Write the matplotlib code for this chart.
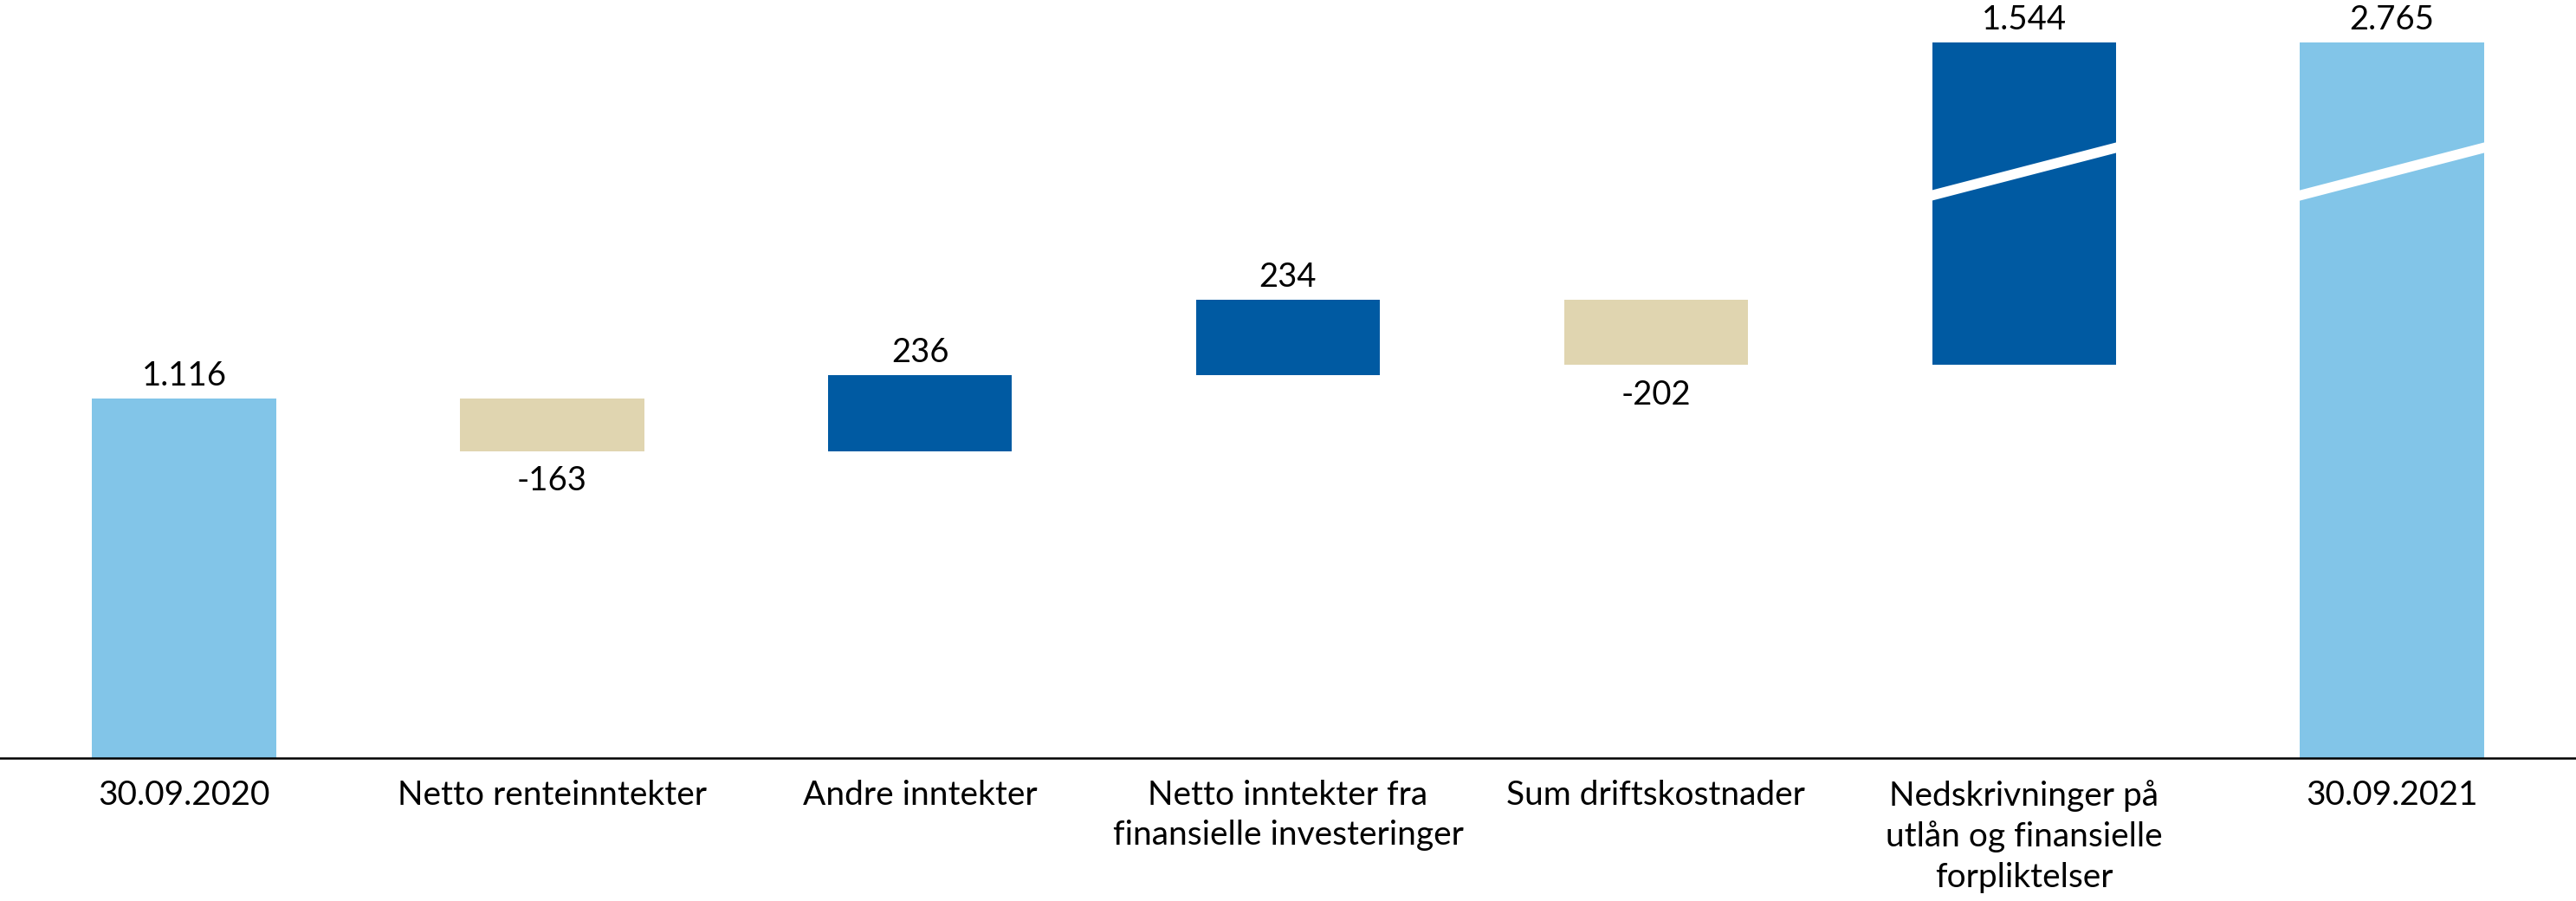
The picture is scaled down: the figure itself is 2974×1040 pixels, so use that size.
import numpy as np
import matplotlib
matplotlib.use("Agg")
import matplotlib.pyplot as plt

# ---- data ----
categories = [
    "30.09.2020",
    "Netto renteinntekter",
    "Andre inntekter",
    "Netto inntekter fra\nfinansielle investeringer",
    "Sum driftskostnader",
    "Nedskrivninger på\nutlån og finansielle\nforpliktelser",
    "30.09.2021",
]
values = [1116, -163, 236, 234, -202, 1544, 2765]
is_total = [True, False, False, False, False, False, True]
value_labels = ["1.116", "-163", "236", "234", "-202", "1.544", "2.765"]

# ---- style ----
C_TOTAL = "#82C5E8"
C_POS = "#005AA2"
C_NEG = "#E0D5B0"
FONT = "Lato"
FS_VAL = 27.5
FS_CAT = 28

plt.rcParams["font.family"] = [FONT, "DejaVu Sans"]

# broken (compressed) y scale above B
B, K = 1820.0, 0.4243


def fwd(y):
    y = np.asarray(y, dtype=float)
    return np.where(y <= B, y, B + (y - B) * K)


def inv(d):
    d = np.asarray(d, dtype=float)
    return np.where(d <= B, d, B + (d - B) / K)


fig = plt.figure(figsize=(29.74, 10.40), dpi=100)
ax = fig.add_axes([0, 0.15865, 1, 0.84135])
ax.set_yscale("function", functions=(fwd, inv))

x = np.arange(len(categories))
bottoms, heights, colors = [], [], []
running = 0.0
for v, tot in zip(values, is_total):
    if tot:
        bottoms.append(0.0)
        heights.append(v)
        colors.append(C_TOTAL)
        running = v
    else:
        if v >= 0:
            bottoms.append(running)
            heights.append(v)
            colors.append(C_POS)
        else:
            bottoms.append(running + v)
            heights.append(-v)
            colors.append(C_NEG)
        running += v

width = 0.5
ax.bar(x, heights, bottom=bottoms, width=width, color=colors, edgecolor="none", zorder=2)

# value labels
for xi, v, b, h, lab in zip(x, values, bottoms, heights, value_labels):
    if v >= 0:
        ax.annotate(lab, (xi, b + h), xytext=(0, 11), textcoords="offset points",
                    ha="center", va="baseline", fontsize=FS_VAL, color="black")
    else:
        ax.annotate(lab, (xi, b), xytext=(0, -12), textcoords="offset points",
                    ha="center", va="top", fontsize=FS_VAL, color="black")

# axis-break marks on bars that exceed the break
brk_lo, brk_hi = float(inv(1745)), float(inv(1896))
for xi, b, h in zip(x, bottoms, heights):
    if b + h > B and b < B:
        ax.plot([xi - width / 2 - 0.005, xi + width / 2 + 0.005], [brk_lo, brk_hi],
                color="white", lw=8.4, solid_capstyle="butt", zorder=3)

ax.set_xlim(-0.5, len(categories) - 0.5)
ax.set_ylim(0, float(inv(2353)))
ax.set_xticks(x)
ax.set_xticklabels(categories, fontsize=FS_CAT, linespacing=1.36)
ax.tick_params(axis="x", length=0, pad=18)
ax.set_yticks([])
ax.minorticks_off()
for s in ["top", "left", "right"]:
    ax.spines[s].set_visible(False)
ax.spines["bottom"].set_linewidth(1.8)
ax.spines["bottom"].set_color("black")

fig.savefig("out.png", dpi=100, facecolor="white")
